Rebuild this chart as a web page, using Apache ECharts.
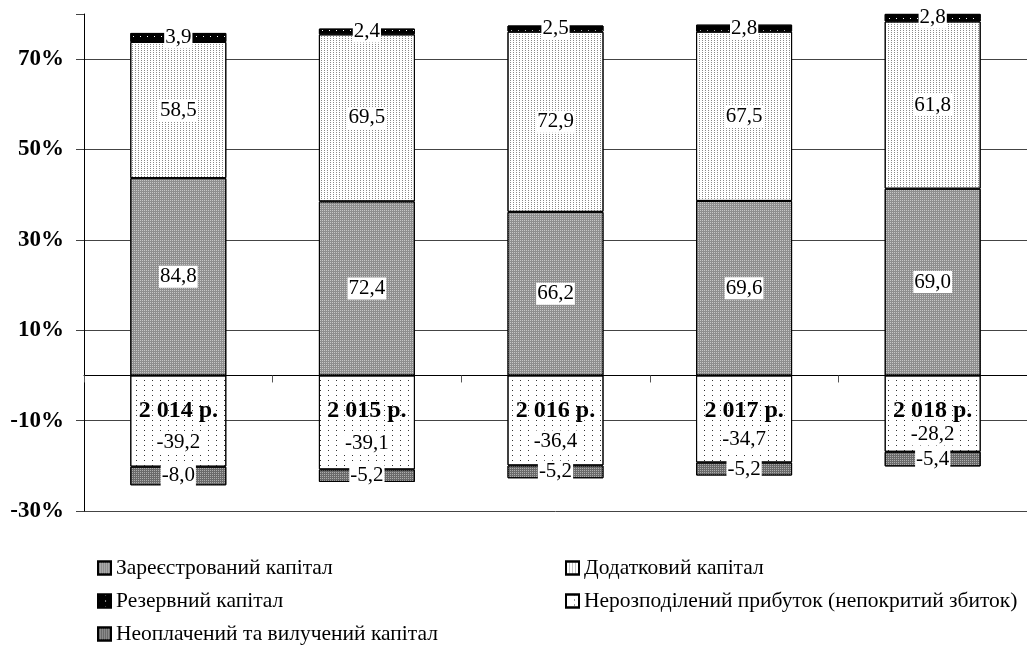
<!DOCTYPE html>
<html>
<head>
<meta charset="utf-8">
<script src="https://cdn.jsdelivr.net/npm/echarts@6/dist/echarts.min.js"></script>
<style>
  html, body { margin: 0; padding: 0; background: #fff; }
  #chart { width: 1027px; height: 646px; }
</style>
</head>
<body>
<div id="chart"></div>
<script>
// Equity structure by year: segment values are shares of equity (%),
// bars are drawn on the balance scale, i.e. scaled by equity's share of total capital.
const years = ['2 014 р.', '2 015 р.', '2 016 р.', '2 017 р.', '2 018 р.'];
const equityShare = [51.5, 53.2, 54.7, 55.5, 59.9];
const registered = [84.8, 72.4, 66.2, 69.6, 69.0];
const additional = [58.5, 69.5, 72.9, 67.5, 61.8];
const reserve = [3.9, 2.4, 2.5, 2.8, 2.8];
const retained = [-39.2, -39.1, -36.4, -34.7, -28.2];
const unpaid = [-8.0, -5.2, -5.2, -5.2, -5.4];
const yTicks = [-30, -10, 10, 30, 50, 70];

const names = {
  registered: 'Зареєстрований капітал',
  additional: 'Додатковий капітал',
  reserve: 'Резервний капітал',
  retained: 'Нерозподілений прибуток (непокритий збиток)',
  unpaid: 'Неоплачений та вилучений капітал'
};

const FONT = 'Liberation Serif';

function scaled(arr) {
  return arr.map((v, i) => +(v * equityShare[i] / 100).toFixed(3));
}
function fmt(v) {
  return v.toFixed(1).replace('.', ',');
}

function makeSeries(name, values, color, decal, labelExtra) {
  return {
    name: name,
    type: 'bar',
    stack: 'equity',
    barWidth: 96,
    data: scaled(values),
    itemStyle: { color: color, borderColor: '#000', borderWidth: 1, decal: decal },
    label: Object.assign({
      show: true,
      position: 'inside',
      formatter: p => fmt(values[p.dataIndex]),
      fontFamily: FONT,
      fontSize: 21,
      color: '#000',
      backgroundColor: '#fff',
      padding: [1, 1, 0, 1]
    }, labelExtra || {})
  };
}

const legendBase = {
  orient: 'vertical',
  top: 557,
  height: 120,
  padding: 0,
  itemGap: 11,
  itemWidth: 13,
  itemHeight: 13,
  icon: 'rect',
  textStyle: { fontFamily: FONT, fontSize: 21.5, color: '#000' }
};

const chart = echarts.init(document.getElementById('chart'), null, { renderer: 'canvas' });

chart.setOption({
  animation: false,
  backgroundColor: '#fff',
  grid: { left: 84, right: 0, top: 14, bottom: 135, containLabel: false },
  legend: [
    Object.assign({}, legendBase, { left: 97, data: [names.registered, names.reserve, names.unpaid] }),
    Object.assign({}, legendBase, { left: 565, data: [names.additional, names.retained] })
  ],
  xAxis: {
    type: 'category',
    data: years,
    z: 10,
    axisLine: { onZero: false, lineStyle: { color: '#000', width: 1 } },
    axisTick: { show: true, length: 7, lineStyle: { color: '#555' } },
    axisLabel: { fontFamily: FONT, fontSize: 24, fontWeight: 'bold', color: '#000', margin: 23 }
  },
  yAxis: {
    type: 'value',
    min: -30,
    max: 80,
    interval: 20,
    axisLine: { show: true, lineStyle: { color: '#000' } },
    axisTick: { show: true, length: 8, lineStyle: { color: '#444' } },
    splitLine: { show: true, showMaxLine: false, lineStyle: { color: '#444', width: 1 } },
    axisLabel: {
      fontFamily: FONT, fontSize: 23, fontWeight: 'bold', color: '#000', margin: 20,
      formatter: v => (yTicks.indexOf(v) >= 0 ? v + '%' : '')
    }
  },
  series: [
    makeSeries(names.registered, registered, '#8e8e8e',
      { symbol: 'rect', symbolSize: 1, dashArrayX: [1, 1], dashArrayY: [1, 1], color: 'rgba(255,255,255,0.5)' }),
    makeSeries(names.additional, additional, '#ffffff',
      { symbol: 'rect', symbolSize: 1, dashArrayX: [1, 2], dashArrayY: [1, 1], color: 'rgba(60,60,60,0.6)' }),
    makeSeries(names.reserve, reserve, '#000000',
      { symbol: 'rect', symbolSize: 1, dashArrayX: [1, 6], dashArrayY: [1, 5], color: '#ffffff' }),
    makeSeries(names.retained, retained, '#ffffff',
      { symbol: 'rect', symbolSize: 1, dashArrayX: [1, 7], dashArrayY: [1, 4], color: '#333333' },
      { offset: [0, 21] }),
    makeSeries(names.unpaid, unpaid, '#6a6a6a',
      { symbol: 'rect', symbolSize: 1, dashArrayX: [1, 1], dashArrayY: [1, 1], color: 'rgba(255,255,255,0.45)' })
  ]
});

// Put the category axis (line, ticks and labels) on the zero level of the value axis.
const yZero = chart.convertToPixel({ yAxisIndex: 0 }, 0);
const yMin = chart.convertToPixel({ yAxisIndex: 0 }, -30);
chart.setOption({ xAxis: { offset: yZero - yMin } });
</script>
</body>
</html>
